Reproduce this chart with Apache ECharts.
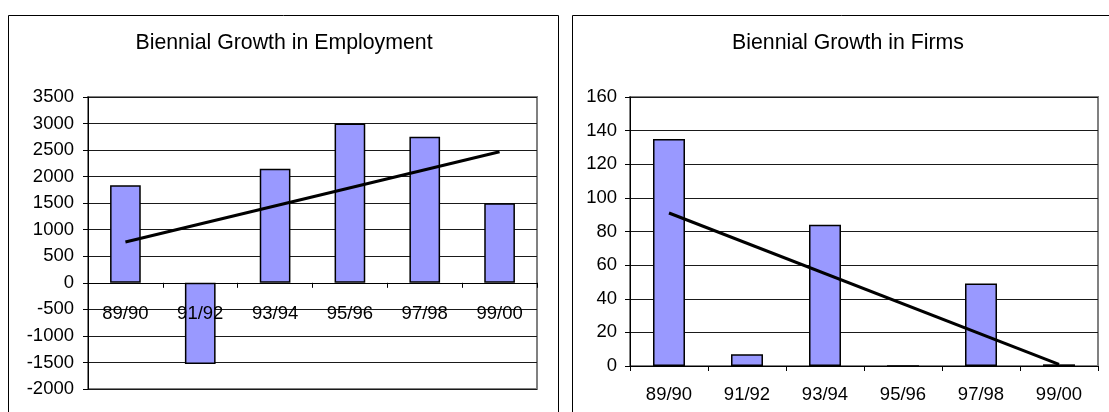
<!DOCTYPE html>
<html>
<head>
<meta charset="utf-8">
<script src="https://cdn.jsdelivr.net/npm/echarts@6/dist/echarts.min.js"></script>
<style>
  html, body { margin: 0; padding: 0; background: #fff; }
  #chart { width: 1109px; height: 412px; }
</style>
</head>
<body>
<div id="chart"></div>
<script>
// Biennial periods shared by both panels
const categories = ['89/90', '91/92', '93/94', '95/96', '97/98', '99/00'];

// Net change in employment per period
const employment = [1840, -1530, 2150, 3000, 2750, 1500];
// Linear trend line, first and last period
const employmentTrend = [770, 2470];
const employmentTicks = [-2000, -1500, -1000, -500, 0, 500, 1000, 1500, 2000, 2500, 3000, 3500];

// Net change in number of firms per period
const firms = [135, 7, 84, 0, 49, 1];
const firmsTrend = [91, 1];
const firmsTicks = [0, 20, 40, 60, 80, 100, 120, 140, 160];

const FONT = '"Liberation Sans", Arial, Helvetica, sans-serif';
const BAR_FILL = '#9999FF';
const LABEL_SIZE = 18.5;

function valueAxis(gridIndex, ticks, margin) {
  return {
    type: 'value',
    gridIndex: gridIndex,
    min: ticks[0],
    max: ticks[ticks.length - 1],
    interval: ticks[1] - ticks[0],
    axisLine: { show: true, lineStyle: { color: '#000', width: 1 } },
    axisTick: { show: true, length: 5, lineStyle: { color: '#000' } },
    axisLabel: {
      color: '#000', fontFamily: FONT, fontSize: LABEL_SIZE, margin: margin,
      formatter: function (v) { return String(v); }
    },
    splitLine: { show: true, lineStyle: { color: '#1a1a1a', width: 1 } }
  };
}

function categoryAxis(gridIndex, margin, showLabels) {
  return {
    type: 'category',
    gridIndex: gridIndex,
    data: categories,
    axisLine: { onZero: true, onZeroAxisIndex: gridIndex, lineStyle: { color: '#000', width: 1 } },
    axisTick: { show: true, length: 5, inside: false, lineStyle: { color: '#000' } },
    axisLabel: { show: showLabels, color: '#000', fontFamily: FONT, fontSize: LABEL_SIZE, margin: margin },
    splitLine: { show: false },
    z: 3
  };
}

// label-only category axis for the employment panel; it is shifted up
// so its labels hang just below the zero line
function floatingLabelAxis(gridIndex, margin, offset) {
  return {
    type: 'category',
    gridIndex: gridIndex,
    data: categories,
    position: 'bottom',
    offset: offset,
    axisLine: { show: false, onZero: false },
    axisTick: { show: false },
    axisLabel: { show: true, color: '#000', fontFamily: FONT, fontSize: LABEL_SIZE, margin: margin },
    splitLine: { show: false },
    z: 4
  };
}

function barSeries(idx, data) {
  return {
    type: 'bar',
    xAxisIndex: idx,
    yAxisIndex: idx,
    data: data,
    barWidth: '41%',
    itemStyle: { color: BAR_FILL, borderColor: '#000', borderWidth: 1.5 },
    silent: true,
    animation: false
  };
}

function trendSeries(idx, ends) {
  return {
    type: 'line',
    xAxisIndex: idx,
    yAxisIndex: idx,
    data: [[categories[0], ends[0]], [categories[categories.length - 1], ends[1]]],
    symbol: 'none',
    lineStyle: { color: '#000', width: 3 },
    z: 5,
    silent: true,
    animation: false
  };
}

function buildOption(labelOffset) {
  return {
    backgroundColor: '#fff',
    animation: false,
    title: [
      {
        text: 'Biennial Growth in Employment',
        left: 284, top: 33, textAlign: 'center', padding: 0,
        textStyle: { fontFamily: FONT, fontSize: 21.3, fontWeight: 'normal', color: '#000' }
      },
      {
        text: 'Biennial Growth in Firms',
        left: 848, top: 33, textAlign: 'center', padding: 0,
        textStyle: { fontFamily: FONT, fontSize: 21.3, fontWeight: 'normal', color: '#000' }
      }
    ],
    graphic: [
      // panel frames
      { type: 'rect', shape: { x: 8.5, y: 15.5, width: 550, height: 420 },
        style: { fill: 'none', stroke: '#000', lineWidth: 1 }, silent: true, z: -10 },
      { type: 'rect', shape: { x: 572.5, y: 15.5, width: 560, height: 420 },
        style: { fill: 'none', stroke: '#000', lineWidth: 1 }, silent: true, z: -10 }
    ],
    grid: [
      { left: 88, top: 97, width: 449, height: 292, show: true, containLabel: false,
        outerBoundsMode: 'none',
        borderColor: '#808080', borderWidth: 2, backgroundColor: '#fff' },
      { left: 630, top: 97, width: 468, height: 269, show: true, containLabel: false,
        outerBoundsMode: 'none',
        borderColor: '#808080', borderWidth: 2, backgroundColor: '#fff' }
    ],
    xAxis: [
      categoryAxis(0, 20, false),
      categoryAxis(1, 19, true),
      floatingLabelAxis(0, 22, labelOffset)
    ],
    yAxis: [valueAxis(0, employmentTicks, 14), valueAxis(1, firmsTicks, 13)],
    series: [
      barSeries(0, employment),
      trendSeries(0, employmentTrend),
      barSeries(1, firms),
      trendSeries(1, firmsTrend)
    ]
  };
}

const chart = echarts.init(document.getElementById('chart'), null, { renderer: 'canvas' });
chart.setOption(buildOption(0));

// distance between the bottom of the employment plot and its zero line
const zeroPx = chart.convertToPixel({ yAxisIndex: 0 }, 0);
const bottomPx = chart.convertToPixel({ yAxisIndex: 0 }, employmentTicks[0]);
chart.setOption(buildOption(zeroPx - bottomPx));
</script>
</body>
</html>
